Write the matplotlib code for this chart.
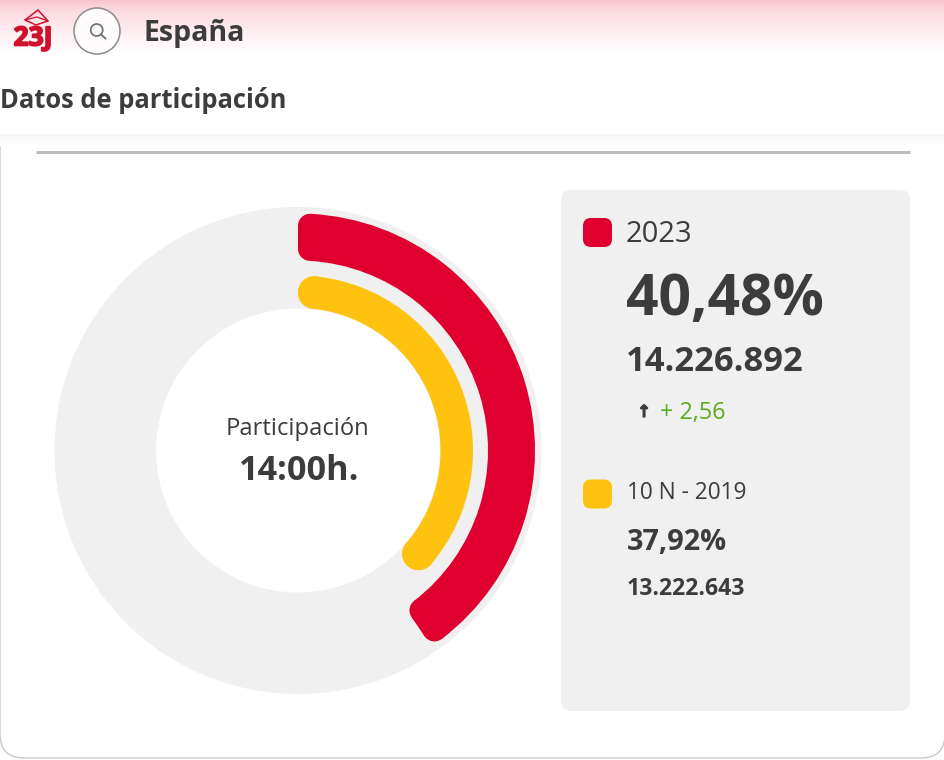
import matplotlib
matplotlib.use("Agg")
import numpy as np
from matplotlib import patheffects, pyplot as plt
from matplotlib.patches import Circle, FancyBboxPatch, Polygon, Wedge

plt.rcParams["font.family"] = ["Open Sans", "DejaVu Sans"]

# values
series_names = ["2023", "10 N - 2019"]
turnout_pct = [40.48, 37.92]
turnout_labels = ["40,48%", "37,92%"]
vote_labels = ["14.226.892", "13.222.643"]
series_colors = ["#e00030", "#ffc20e"]
change_label = "+ 2,56"
centre_title = "Participación"
centre_time = "14:00h."

DARK = "#3c3c3c"
GREY = "#f0f0f0"
CX, CY = 298, 450.5
DPI = 100

fig = plt.figure(figsize=(9.45, 7.6), dpi=DPI)
ax = fig.add_axes([0, 0, 1, 1])
ax.axis("off")


def px(width):
    # stroke widths are in points, layout here is in pixels
    return width * 72 / DPI


def rounded_arc(r_in, r_out, pct, corner, color):
    # ring sector with rounded corners: two wedges inset by the corner, one full, four circles
    start = -90
    end = start + pct / 100 * 360
    r_mid = (r_in + r_out) / 2
    outer_inset = np.degrees(np.arcsin(corner / (r_out - corner)))
    inner_inset = np.degrees(np.arcsin(corner / (r_in + corner)))
    if r_out - r_in > 2 * corner:
        ax.add_patch(Wedge((CX, CY), r_out - corner, start, end, width=r_out - r_in - 2 * corner,
                           facecolor=color, edgecolor="none", zorder=3))
    # the 1.5 px overlap hides the seam between the halves
    ax.add_patch(Wedge((CX, CY), r_out, start + outer_inset, end - outer_inset, width=r_out - r_mid + 1.5,
                       facecolor=color, edgecolor="none", zorder=3))
    ax.add_patch(Wedge((CX, CY), r_mid, start + inner_inset, end - inner_inset, width=r_mid - r_in,
                       facecolor=color, edgecolor="none", zorder=3))
    for radius, angle in [(r_out - corner, start + outer_inset), (r_out - corner, end - outer_inset),
                          (r_in + corner, start + inner_inset), (r_in + corner, end - inner_inset)]:
        centre = (CX + radius * np.cos(np.radians(angle)), CY + radius * np.sin(np.radians(angle)))
        ax.add_patch(Circle(centre, corner, facecolor=color, edgecolor="none", zorder=3))


# header gradient
gradient = np.linspace(0, 1, 60)[:, None, None]
top = np.array([0.98, 0.76, 0.80])
ax.imshow(top + (1 - top) * gradient ** 0.6, extent=[0, 945, 55, 0], aspect="auto", zorder=0)

# logo
ax.text(33, 38, "23J", color="#d0112b", fontsize=19, fontweight="bold", ha="center", va="center",
        zorder=3, path_effects=[patheffects.withStroke(linewidth=1.2, foreground="#d0112b")])
ax.add_patch(Polygon([[25, 20], [38, 10], [48, 21], [36, 25]], closed=True, fill=False,
                     edgecolor="#d0112b", linewidth=1.1, zorder=3))
ax.plot([25, 37, 48], [20, 17, 21], color="#d0112b", linewidth=0.9, zorder=3)

# search button
ax.add_patch(Circle((97, 31), 23, facecolor="#fdfbfb", edgecolor="#8c8c8c", linewidth=1.1, zorder=2))
ax.add_patch(Circle((96.7, 30), 6, fill=False, edgecolor="#6e6e6e", linewidth=1.2, zorder=3))
ax.plot([101, 105.5], [34.5, 38.5], color="#6e6e6e", linewidth=1.3, zorder=3)

ax.text(144, 34, "España", color=DARK, fontsize=20.5, fontweight="bold", va="center", zorder=3)
ax.text(0, 101, "Datos de participación", color=DARK, fontsize=18.4, fontweight="bold", va="center", zorder=3)

# card outline and top shadow
ax.add_patch(FancyBboxPatch((0, 100), 945, 658, boxstyle="round,pad=0,rounding_size=24",
                            facecolor="white", edgecolor="#c9c9c9", linewidth=1.0, zorder=1))
ax.fill_between([0, 945], 56, 134, color="white", zorder=1.2, linewidth=0)
shade = np.linspace(0.965, 1, 12)[:, None, None] * np.ones((12, 1, 3))
ax.imshow(shade, extent=[0, 945, 146, 134], aspect="auto", zorder=1.3)
ax.plot([35.5, 910], [151.5, 151.5], color="#bcbcbc", linewidth=px(3), solid_capstyle="butt", zorder=2)

# background ring
ax.add_patch(Wedge((CX, CY), 243.5, 0, 360, width=101.5, facecolor=GREY, edgecolor="none", zorder=2))

# series arcs
rounded_arc(190, 237, turnout_pct[0], 12, series_colors[0])
rounded_arc(142.5, 175, turnout_pct[1], 16.25, series_colors[1])

ax.text(CX, 429, centre_title, color=DARK, fontsize=17.1, ha="center", va="center", zorder=4)
ax.text(CX, 471, centre_time, color=DARK, fontsize=24.7, fontweight="bold", ha="center", va="center", zorder=4)

# side panel
ax.add_patch(FancyBboxPatch((561, 190), 349, 521, boxstyle="round,pad=0,rounding_size=10",
                            facecolor=GREY, edgecolor="none", zorder=2))
ax.add_patch(FancyBboxPatch((583, 218), 29, 29, boxstyle="round,pad=0,rounding_size=8",
                            facecolor=series_colors[0], edgecolor="none", zorder=3))
ax.add_patch(FancyBboxPatch((583, 479.5), 29, 29, boxstyle="round,pad=0,rounding_size=8",
                            facecolor=series_colors[1], edgecolor="none", zorder=3))

ax.text(626, 235, series_names[0], color=DARK, fontsize=21, va="center", zorder=4)
ax.text(626, 300, turnout_labels[0], color=DARK, fontsize=41, fontweight="bold", va="center", zorder=4)
ax.text(626, 362, vote_labels[0], color=DARK, fontsize=24.8, fontweight="bold", va="center", zorder=4)
ax.text(644, 412, "↑", color=DARK, fontsize=12, fontweight="bold", ha="center", va="center",
        family="DejaVu Sans", zorder=4,
        path_effects=[patheffects.withStroke(linewidth=0.8, foreground=DARK)])
ax.text(660, 413, change_label, color="#5cab1e", fontsize=16.8, va="center", zorder=4)

ax.text(627, 493, series_names[1], color=DARK, fontsize=16.3, va="center", zorder=4)
ax.text(626.5, 542, turnout_labels[1], color=DARK, fontsize=20.8, fontweight="bold", va="center", zorder=4)
ax.text(626.5, 589, vote_labels[1], color=DARK, fontsize=16.6, fontweight="bold", va="center", zorder=4)

# imshow resets the limits, so set them last
ax.set_xlim(0, 945)
ax.set_ylim(760, 0)

fig.savefig("out.png", dpi=DPI)
